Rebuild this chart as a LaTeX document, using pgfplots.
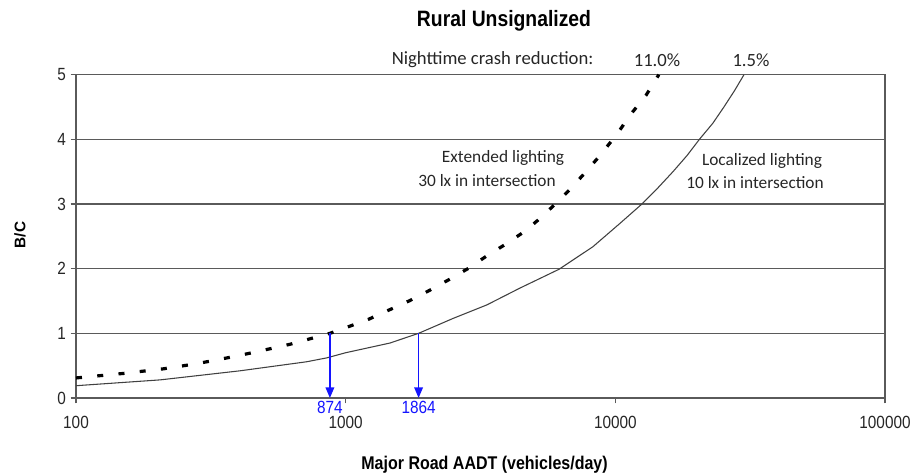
\documentclass[border=0pt]{standalone}
\usepackage{graphicx}
\usepackage{pgfplots}
\pgfplotsset{compat=1.18}
\usetikzlibrary{arrows.meta}
\usepackage{fontspec}
\setmainfont{Liberation Sans}
\newfontfamily\calibri{Carlito}
\definecolor{gridc}{HTML}{5A5A5A}
\definecolor{txt}{HTML}{262626}
\definecolor{arrowblue}{RGB}{20,20,255}
\newcommand\tall[1]{\scalebox{1}[1.15]{#1}}

\begin{document}
\begin{tikzpicture}
% page size: 913x473 px at 0.75pt per px, axis box from (76,398) to (885,75)
\useasboundingbox (-57pt,-56.25pt) rectangle (627.75pt,298.5pt);
\begin{axis}[
  at={(0,0)}, anchor=south west,
  scale only axis, width=606.75pt, height=242.5pt,
  xmode=log, xmin=100, xmax=100000, ymin=0, ymax=5,
  xtick={100,1000,10000,100000},
  xticklabels={\tall{100},\tall{1000},\tall{10000},\tall{100000}},
  ytick={0,1,2,3,4,5},
  yticklabel={\tall{\pgfmathprintnumber{\tick}}},
  xminorticks=false, yminorticks=false,
  tick pos=left, tick align=outside, major tick length=4pt,
  ymajorgrids, grid style={gridc, line width=0.9pt},
  axis line style={gridc, line width=0.9pt},
  tick style={gridc, line width=0.9pt},
  ticklabel style={font=\fontsize{11.5}{12}\selectfont, text=txt},
  /pgf/number format/assume math mode=true,
  xticklabel style={yshift=-6pt},
  clip=false,
]
% extended lighting, 11.0% reduction
\addplot[black, line width=2.4pt, dash pattern=on 4.5pt off 11.5pt] coordinates {
  (100,0.31) (150,0.38) (210,0.45) (280,0.53) (363,0.62) (450,0.70)
  (621,0.83) (874,1.00) (1020,1.10) (1220,1.22) (1447,1.36) (1717,1.50)
  (2037,1.66) (2415,1.83) (2866,2.01) (3370,2.21) (3963,2.39) (4622,2.58)
  (5164,2.75) (5921,2.98) (6730,3.21) (7710,3.48) (8690,3.73) (10140,4.08)
  (11420,4.39) (12990,4.68) (14500,5.00)
};
% localized lighting, 1.5% reduction
\addplot[black!75, line width=0.8pt] coordinates {
  (100,0.19) (205,0.28) (405,0.42) (716,0.56) (850,0.62) (1000,0.70)
  (1460,0.85) (1864,1.00) (2500,1.23) (3340,1.44) (4430,1.70) (6180,1.99)
  (8260,2.34) (10400,2.70) (12550,3.00) (14390,3.25) (16360,3.50)
  (18450,3.75) (20500,4.00) (23000,4.25) (25270,4.50) (27640,4.75)
  (30000,5.00)
};
% break-even arrows
\addplot[arrowblue, line width=1.1pt, -{Triangle[length=8pt,width=6.5pt]}] coordinates {(874,1) (874,0)};
\addplot[arrowblue, line width=1.1pt, -{Triangle[length=8pt,width=6.5pt]}] coordinates {(1864,1) (1864,0)};
\node[arrowblue, anchor=north, font=\fontsize{11.5}{13}\selectfont, inner sep=1pt, yshift=-1.5pt] at (axis cs:874,0) {\tall{874}};
\node[arrowblue, anchor=north, font=\fontsize{11.5}{13}\selectfont, inner sep=1pt, yshift=-1.5pt] at (axis cs:1864,0) {\tall{1864}};
\end{axis}
\node[font=\bfseries\fontsize{14.5}{16}\selectfont] at (321pt,282.75pt) {\tall{Rural Unsignalized}};
\node[font=\calibri\fontsize{14}{16}\selectfont, text=txt] at (312.4pt,253.5pt) {Nighttime crash reduction:};
\node[font=\calibri\fontsize{14}{16}\selectfont, text=txt] at (435.75pt,253.5pt) {11.0\%};
\node[font=\calibri\fontsize{14}{16}\selectfont, text=txt] at (506.25pt,253.5pt) {1.5\%};
\node[font=\calibri\fontsize{13}{15}\selectfont, text=txt] at (320.25pt,180pt) {Extended lighting};
\node[font=\calibri\fontsize{13}{15}\selectfont, text=txt] at (308.25pt,162.75pt) {30 lx in intersection};
\node[font=\calibri\fontsize{13}{15}\selectfont, text=txt] at (514.5pt,177.75pt) {Localized lighting};
\node[font=\calibri\fontsize{13}{15}\selectfont, text=txt] at (509.25pt,161.25pt) {10 lx in intersection};
\node[font=\bfseries\fontsize{11.5}{13}\selectfont, rotate=90] at (-42pt,122.25pt) {B/C};
\node[font=\bfseries\fontsize{12}{14}\selectfont] at (306.4pt,-50.25pt) {\tall{Major Road AADT (vehicles/day)}};
\end{tikzpicture}
\end{document}
